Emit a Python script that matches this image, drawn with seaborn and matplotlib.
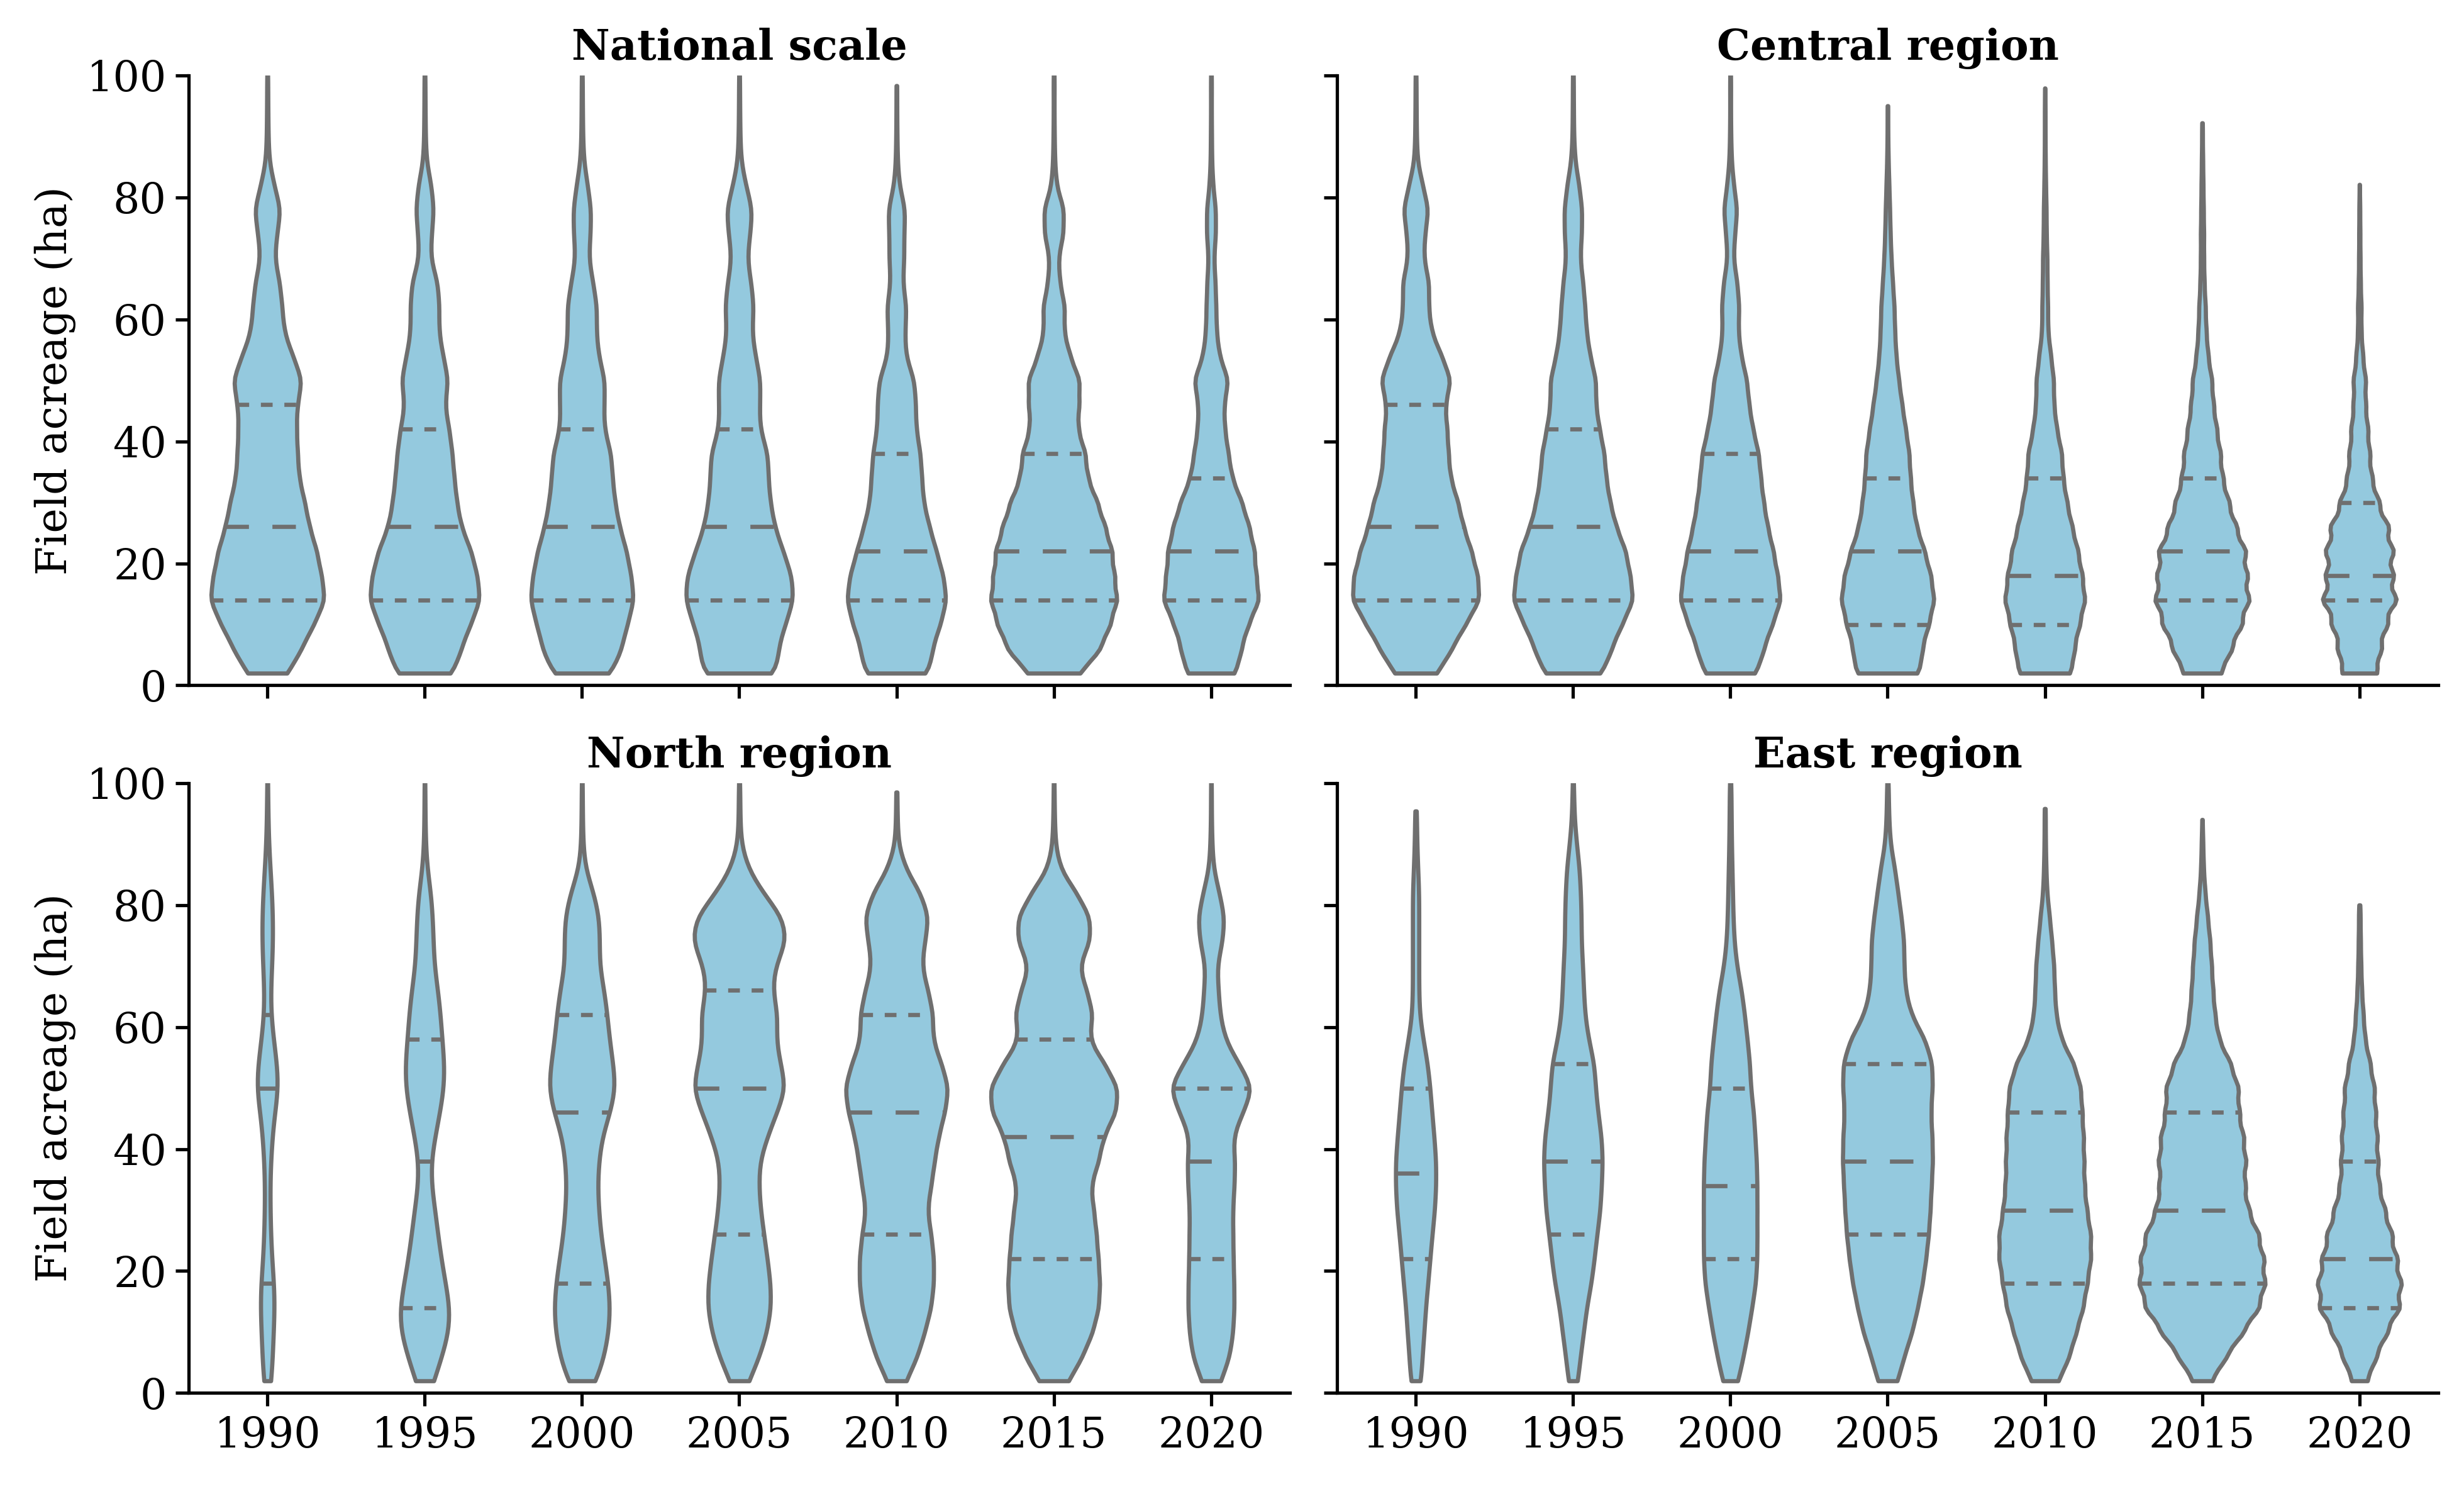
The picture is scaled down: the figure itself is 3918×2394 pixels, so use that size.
import numpy as np
import pandas as pd
import matplotlib
matplotlib.use("Agg")
import matplotlib.pyplot as plt
import seaborn as sns

# Field acreage values are stored as counts of fields per 4 ha bin
# (bin centres below) plus the single largest field of each year.
years = ["1990", "1995", "2000", "2005", "2010", "2015", "2020"]
bin_centres = [2, 6, 10, 14, 18, 22, 26, 30, 34, 38, 42, 46, 50,
               54, 58, 62, 66, 70, 74, 78, 82, 86, 90, 94, 98]

national_counts = [
    [94, 155, 210, 265, 245, 225, 190, 170, 143, 137, 132, 134, 160, 115, 75, 67, 56, 32, 43, 61, 30, 8, 4, 3, 2],
    [140, 175, 220, 270, 253, 225, 175, 155, 142, 133, 118, 95, 115, 88, 68, 70, 63, 27, 33, 44, 31, 8, 4, 3, 2],
    [136, 180, 205, 238, 223, 203, 170, 150, 138, 133, 100, 100, 105, 75, 65, 68, 50, 30, 38, 41, 25, 8, 4, 3, 2],
    [180, 180, 214, 255, 245, 205, 165, 145, 135, 135, 95, 95, 100, 75, 58, 68, 55, 36, 50, 62, 30, 8, 4, 3, 2],
    [168, 178, 220, 253, 235, 200, 165, 135, 127, 120, 98, 96, 90, 45, 42, 50, 30, 38, 37, 44, 13, 5, 3, 2, 1],
    [134, 233, 280, 317, 300, 290, 255, 217, 167, 158, 118, 125, 130, 80, 50, 55, 30, 22, 47, 50, 13, 5, 3, 2, 2],
    [140, 166, 204, 268, 247, 240, 210, 170, 115, 95, 75, 70, 97, 45, 30, 27, 23, 15, 25, 25, 10, 4, 3, 2, 2],
]
national_max = [100, 100, 100, 100, 98.3, 100, 100]

central_counts = [
    [106, 175, 240, 312, 300, 270, 230, 205, 167, 158, 152, 140, 173, 125, 75, 62, 65, 38, 44, 62, 33, 8, 4, 3, 2],
    [150, 192, 244, 305, 285, 265, 215, 185, 165, 157, 132, 113, 116, 85, 67, 60, 50, 35, 43, 45, 30, 10, 4, 3, 2],
    [138, 170, 214, 260, 241, 220, 190, 170, 155, 145, 115, 95, 85, 55, 40, 45, 35, 15, 23, 35, 17, 6, 3, 2, 2],
    [184, 190, 228, 260, 240, 205, 160, 140, 126, 120, 100, 80, 62, 47, 40, 37, 28, 20, 15, 12, 8, 4, 2, 1, 0],
    [160, 173, 204, 238, 220, 195, 160, 130, 107, 100, 70, 53, 52, 35, 18, 17, 14, 13, 9, 8, 5, 3, 2, 2, 0],
    [120, 182, 244, 290, 276, 268, 210, 165, 127, 113, 90, 70, 60, 37, 25, 20, 13, 10, 10, 8, 6, 4, 2, 0, 0],
    [120, 146, 186, 248, 225, 227, 195, 132, 85, 70, 57, 42, 42, 23, 12, 12, 7, 5, 4, 3, 0, 0, 0, 0, 0],
]
central_max = [100, 100, 100, 95, 97.9, 92.2, 82.1]

north_counts = [
    [24, 29, 32, 42, 38, 22, 19, 15, 14, 17, 28, 34, 73, 50, 35, 15, 17, 25, 31, 30, 25, 15, 7, 4, 3],
    [50, 90, 130, 135, 110, 88, 70, 55, 35, 32, 55, 80, 103, 105, 92, 84, 70, 50, 46, 42, 33, 12, 5, 3, 2],
    [65, 100, 120, 127, 118, 102, 85, 76, 70, 76, 90, 127, 153, 140, 124, 114, 100, 78, 80, 78, 53, 13, 5, 3, 2],
    [43, 90, 123, 142, 139, 125, 110, 95, 87, 90, 125, 167, 210, 183, 163, 173, 147, 158, 213, 195, 105, 38, 8, 4, 3],
    [44, 97, 130, 160, 172, 172, 160, 140, 160, 175, 193, 223, 242, 207, 165, 170, 145, 115, 130, 150, 110, 40, 8, 4, 2],
    [73, 140, 190, 220, 225, 217, 208, 195, 178, 220, 240, 305, 315, 247, 168, 193, 160, 120, 178, 178, 110, 30, 8, 4, 2],
    [60, 115, 135, 143, 141, 137, 135, 133, 143, 148, 132, 195, 263, 170, 85, 55, 45, 35, 70, 83, 50, 14, 6, 3, 2],
]
north_max = [100, 100, 100, 100, 98.5, 100, 100]

east_counts = [
    [25, 31, 40, 47, 58, 68, 78, 90, 96, 96, 87, 77, 68, 56, 35, 18, 15, 15, 15, 15, 15, 10, 6, 4, 0],
    [20, 31, 45, 57, 77, 90, 101, 115, 120, 125, 120, 105, 95, 90, 65, 50, 45, 41, 35, 35, 32, 27, 15, 6, 3],
    [30, 50, 68, 83, 98, 103, 103, 103, 103, 101, 95, 90, 78, 75, 65, 55, 43, 25, 15, 11, 9, 7, 5, 4, 3],
    [37, 60, 90, 110, 128, 140, 150, 156, 160, 165, 163, 157, 164, 164, 137, 85, 65, 60, 60, 50, 38, 26, 10, 5, 3],
    [60, 105, 135, 165, 182, 198, 198, 180, 170, 168, 166, 160, 155, 125, 70, 48, 42, 39, 30, 20, 9, 5, 3, 2, 0],
    [48, 123, 208, 290, 320, 313, 287, 235, 216, 222, 210, 187, 185, 145, 85, 65, 55, 48, 40, 28, 15, 7, 4, 0, 0],
    [50, 110, 180, 260, 270, 243, 210, 165, 128, 120, 115, 105, 97, 70, 37, 25, 15, 10, 7, 5, 0, 0, 0, 0, 0],
]
east_max = [95.4, 100, 100, 100, 95.8, 94, 80]

panels = [
    ("National scale", national_counts, national_max),
    ("Central region", central_counts, central_max),
    ("North region", north_counts, north_max),
    ("East region", east_counts, east_max),
]


def build_frame(counts, maxima):
    rows = []
    for year, c, m in zip(years, counts, maxima):
        vals = np.append(np.repeat(bin_centres, c), m)
        rows.append(pd.DataFrame({"year": year, "acreage": vals}))
    return pd.concat(rows, ignore_index=True)


sns.set_style("ticks")
plt.rcParams["font.family"] = ["DejaVu Serif"]
plt.rcParams["text.color"] = "black"
plt.rcParams["axes.labelcolor"] = "black"
plt.rcParams["axes.edgecolor"] = "black"
plt.rcParams["xtick.color"] = "black"
plt.rcParams["ytick.color"] = "black"
plt.rcParams["axes.linewidth"] = 1.25
plt.rcParams["xtick.major.width"] = 1.25
plt.rcParams["ytick.major.width"] = 1.25
plt.rcParams["xtick.major.size"] = 5
plt.rcParams["ytick.major.size"] = 5

fig, axes = plt.subplots(2, 2, figsize=(13.06, 7.98), dpi=300,
                         sharex=True, sharey=True)

for ax, (title, counts, maxima) in zip(axes.flat, panels):
    df = build_frame(counts, maxima)
    sns.violinplot(data=df, x="year", y="acreage", order=years, ax=ax,
                   color="skyblue", inner="quart", cut=0,
                   density_norm="count", bw_adjust=0.55, linewidth=1.6)
    # longer dashes for the quartile / median lines
    for i, line in enumerate(ax.lines):
        if i % 3 == 1:
            line.set_dashes((5.6, 5.6))
        else:
            line.set_dashes((2.8, 2.8))
    ax.set_title(title, fontsize=16, fontweight="bold")
    ax.set_xlabel("")
    ax.set_ylabel("")
    ax.set_ylim(0, 100)
    ax.set_yticks([0, 20, 40, 60, 80, 100])
    ax.tick_params(labelsize=16)

for ax in axes[:, 0]:
    ax.set_ylabel("Field acreage (ha)", fontsize=16)

sns.despine(fig=fig)
fig.subplots_adjust(left=0.0766, right=0.9895, top=0.95, bottom=0.075,
                    wspace=0.043, hspace=0.16)
fig.savefig("out.png", dpi=300)
